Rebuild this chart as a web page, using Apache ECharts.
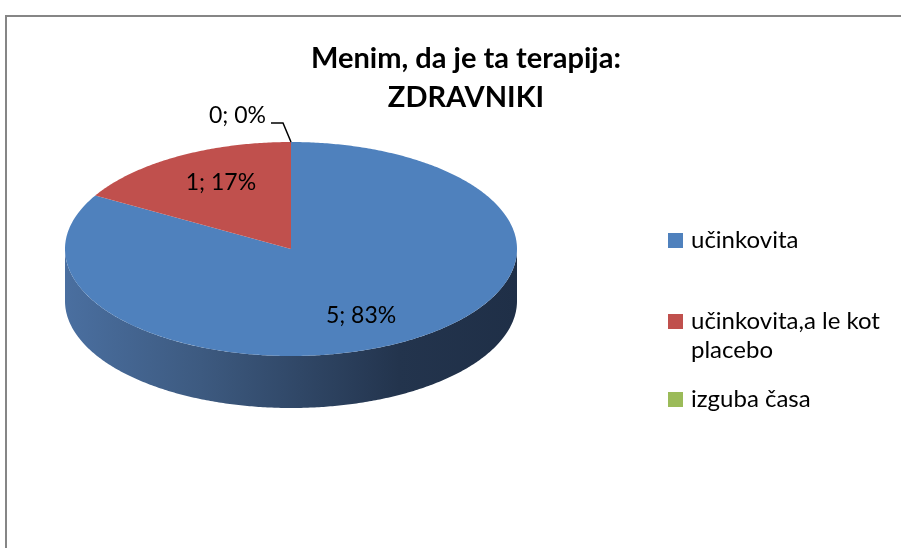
<!DOCTYPE html>
<html>
<head>
<meta charset="utf-8">
<script src="https://cdn.jsdelivr.net/npm/echarts@6/dist/echarts.min.js"></script>
<style>
    html, body { margin: 0; padding: 0; background: #fff; }
    #main { width: 901px; height: 548px; }
</style>
</head>
<body>
<div id="main"></div>
<script>
    // data
    var categories = ['učinkovita', 'učinkovita,a le kot placebo', 'izguba časa'];
    var values = [5, 1, 0];
    var colors = ['#4f81bd', '#c0504d', '#9bbb59'];

    // 3d pie shape
    var cx = 291, cy = 249, rx = 226, ry = 107, depth = 52;
    var total = values.reduce(function (a, b) { return a + b; }, 0);

    function pt(a, dy) {
        return [cx + rx * Math.sin(a), cy - ry * Math.cos(a) + (dy || 0)];
    }
    function arc(a0, a1, dy) {
        var n = Math.max(2, Math.ceil((a1 - a0) / 0.01));
        var out = [];
        for (var k = 0; k <= n; k++) out.push(pt(a0 + (a1 - a0) * k / n, dy));
        return out;
    }

    var wallFill = {
        type: 'linear', x: cx - rx, y: 0, x2: cx + rx, y2: 0, global: true,
        colorStops: [
            {offset: 0, color: '#4a6fa0'},
            {offset: 0.3, color: '#3d5a80'},
            {offset: 0.74, color: '#23344d'},
            {offset: 1, color: '#1f2f47'}
        ]
    };

    var labelFont = '23px Lato';

    function renderItem(params, api) {
        var i = params.seriesIndex;
        var v = api.value(0);
        var before = 0;
        for (var j = 0; j < i; j++) before += values[j];
        var a0 = before / total * Math.PI * 2;
        var a1 = (before + v) / total * Math.PI * 2;
        var children = [];

        if (v > 0) {
            // side wall (front half only)
            var lo = Math.max(a0, Math.PI / 2), hi = Math.min(a1, Math.PI * 1.5);
            if (hi > lo) {
                var top = arc(lo, hi, 0);
                var bottom = arc(lo, hi, depth).reverse();
                children.push({
                    type: 'polygon', z2: 1,
                    shape: {points: top.concat(bottom)},
                    style: {fill: wallFill}
                });
            }
            // top face
            children.push({
                type: 'polygon', z2: 10,
                shape: {points: [[cx, cy]].concat(arc(a0, a1, 0))},
                style: {fill: colors[i]}
            });
            var m = (a0 + a1) / 2;
            children.push({
                type: 'text', z2: 20,
                x: cx + 0.62 * rx * Math.sin(m),
                y: cy - 0.72 * ry * Math.cos(m),
                style: {
                    text: v + '; ' + Math.round(v / total * 100) + '%',
                    font: labelFont, fill: '#000', align: 'center', verticalAlign: 'middle'
                }
            });
        } else {
            // zero slice: label outside with leader line
            var p = pt(a0, 0);
            var elbow = [p[0] - 8, p[1] - 19];
            var end = [elbow[0] - 12, elbow[1]];
            children.push({
                type: 'polyline', z2: 20,
                shape: {points: [p, elbow, end]},
                style: {stroke: '#000', lineWidth: 1.5, fill: null}
            });
            children.push({
                type: 'text', z2: 20,
                x: end[0] - 5, y: end[1] - 7,
                style: {
                    text: v + '; 0%',
                    font: labelFont, fill: '#000', align: 'right', verticalAlign: 'middle'
                }
            });
        }
        return {type: 'group', children: children};
    }

    var series = [];
    for (var i = 0; i < categories.length; i++) {
        series.push({
            type: 'custom',
            name: categories[i],
            coordinateSystem: 'none',
            itemStyle: {color: colors[i]},
            renderItem: renderItem,
            data: [[values[i]]],
            silent: true
        });
    }

    var legendTops = [221, 273, 380];
    var legends = legendTops.map(function (t, i) {
        return {
            data: [categories[i]],
            left: 663,
            top: t,
            icon: 'rect',
            itemWidth: 15,
            itemHeight: 15,
            itemGap: 0,
            selectedMode: false,
            formatter: function (name) {
                return name === 'učinkovita,a le kot placebo' ? '\nučinkovita,a le kot\nplacebo' : name;
            },
            textStyle: {
                fontFamily: 'Lato', fontSize: 24, color: '#000', lineHeight: 29,
                padding: [0, 0, 0, 3]
            }
        };
    });

    var option = {
        animation: false,
        title: {
            text: 'Menim, da je ta terapija:\nZDRAVNIKI',
            left: 461,
            top: 34,
            textAlign: 'center',
            textStyle: {fontFamily: 'Lato', fontWeight: 'bold', fontSize: 29, lineHeight: 39, color: '#000'}
        },
        legend: legends,
        graphic: [{
            type: 'rect',
            shape: {x: 6, y: 16, width: 1000, height: 1000},
            style: {fill: null, stroke: '#868686', lineWidth: 2}
        }],
        series: series
    };

    var myChart = echarts.init(document.getElementById('main'));
    myChart.setOption(option);
</script>
</body>
</html>
